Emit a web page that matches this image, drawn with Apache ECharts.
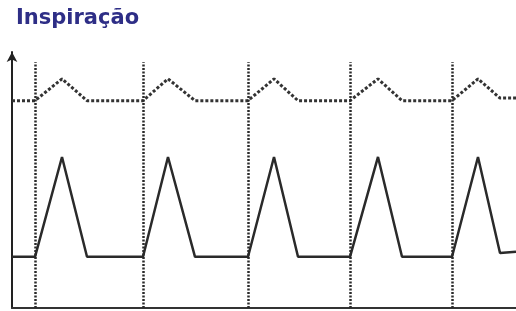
<!DOCTYPE html>
<html>
<head>
<meta charset="utf-8">
<script src="https://cdn.jsdelivr.net/npm/echarts@6/dist/echarts.min.js"></script>
<style>
  html, body { margin: 0; padding: 0; background: #fff; }
  #chart { width: 516px; height: 311px; }
</style>
</head>
<body>
<div id="chart"></div>
<script>
// tempo (unidades arbitrárias) e sinais
const times = [0, 23, 50, 75, 131, 156, 183, 236, 262, 286, 338, 366, 390, 440, 466, 488, 504]
const lowerVals = [20, 20, 59, 20, 20, 59, 20, 20, 59, 20, 20, 59, 20, 20, 59, 21.5, 22]
const upperVals = [81, 81, 89.5, 81, 81, 89.5, 81, 81, 89.5, 81, 81, 89.5, 81, 81, 89.5, 82, 82]
const cycleStarts = [23, 131, 236, 338, 440]
const markTop = 96

const chart = echarts.init(document.getElementById('chart'))
chart.setOption({
  animation: false,
  title: {
    text: 'Inspiração',
    left: 16,
    top: 8,
    padding: 0,
    textStyle: {
      fontFamily: 'DejaVu Sans',
      fontWeight: 'bold',
      fontSize: 21,
      color: '#2e2e86'
    }
  },
  grid: { left: 12, right: 0, top: 52, bottom: 3 },
  xAxis: {
    type: 'value',
    min: 0,
    max: 504,
    axisLine: { lineStyle: { color: '#333', width: 2 } },
    axisTick: { show: false },
    axisLabel: { show: false },
    splitLine: { show: false }
  },
  yAxis: {
    type: 'value',
    min: 0,
    max: 100,
    axisLine: {
      show: true,
      symbol: ['none', 'arrow'],
      symbolSize: [8, 10],
      lineStyle: { color: '#222', width: 2 }
    },
    axisTick: { show: false },
    axisLabel: { show: false },
    splitLine: { show: false }
  },
  series: [
    {
      name: 'fluxo',
      type: 'line',
      data: times.map((t, i) => [t, lowerVals[i]]),
      symbol: 'none',
      lineStyle: { color: '#2a2a2a', width: 2.5 },
      markLine: {
        silent: true,
        symbol: 'none',
        label: { show: false },
        emphasis: { disabled: true },
        lineStyle: { color: '#2a2a2a', width: 2.5, type: [2, 1.5], opacity: 1 },
        data: cycleStarts.map(x => [{ coord: [x, 0] }, { coord: [x, markTop] }])
      }
    },
    {
      name: 'pressão',
      type: 'line',
      data: times.map((t, i) => [t, upperVals[i]]),
      symbol: 'none',
      lineStyle: { color: '#333', width: 3, type: [3, 2] }
    }
  ]
})
</script>
</body>
</html>
